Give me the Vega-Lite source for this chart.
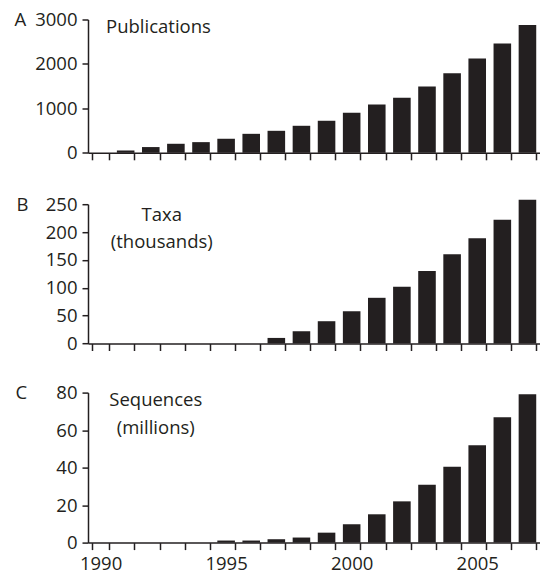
{
  "$schema": "https://vega.github.io/schema/vega-lite/v6.json",
  "padding": {"left": 14, "top": 10.5, "right": 0, "bottom": 0},
  "background": "white",
  "config": {
    "font": "Open Sans",
    "view": {"stroke": null},
    "axis": {
      "domainColor": "#231f20", "tickColor": "#231f20", "labelColor": "#231f20", "titleColor": "#231f20",
      "labelFont": "Open Sans", "labelFontSize": 18.5, "titleFont": "Open Sans", "titleFontSize": 18.5,
      "titleFontWeight": "normal", "domainWidth": 1.5, "tickWidth": 1.5, "grid": false, "labelOverlap": false
    }
  },
  "datasets": {
    "pubs": [
      {"year": 1991, "value": 52}, {"year": 1992, "value": 129}, {"year": 1993, "value": 203},
      {"year": 1994, "value": 240}, {"year": 1995, "value": 316}, {"year": 1996, "value": 427},
      {"year": 1997, "value": 495}, {"year": 1998, "value": 608}, {"year": 1999, "value": 721},
      {"year": 2000, "value": 900}, {"year": 2001, "value": 1087}, {"year": 2002, "value": 1238},
      {"year": 2003, "value": 1493}, {"year": 2004, "value": 1793}, {"year": 2005, "value": 2123},
      {"year": 2006, "value": 2460}, {"year": 2007, "value": 2874}
    ],
    "taxa": [
      {"year": 1997, "value": 10}, {"year": 1998, "value": 22}, {"year": 1999, "value": 40},
      {"year": 2000, "value": 58}, {"year": 2001, "value": 82}, {"year": 2002, "value": 102},
      {"year": 2003, "value": 130}, {"year": 2004, "value": 160}, {"year": 2005, "value": 189},
      {"year": 2006, "value": 222}, {"year": 2007, "value": 258}
    ],
    "seqs": [
      {"year": 1995, "value": 1.1}, {"year": 1996, "value": 1.1}, {"year": 1997, "value": 1.8},
      {"year": 1998, "value": 2.7}, {"year": 1999, "value": 5.3}, {"year": 2000, "value": 9.8},
      {"year": 2001, "value": 15.1}, {"year": 2002, "value": 22}, {"year": 2003, "value": 30.8},
      {"year": 2004, "value": 40.5}, {"year": 2005, "value": 51.9}, {"year": 2006, "value": 66.8},
      {"year": 2007, "value": 79.1}
    ],
    "notes": [
      {"panel": "A", "year": 1990, "value": 2842, "label": "Publications"},
      {"panel": "B", "year": 1992, "value": 230, "label": "Taxa"},
      {"panel": "B", "year": 1992, "value": 182, "label": "(thousands)"},
      {"panel": "C", "year": 1992, "value": 76, "label": "Sequences"},
      {"panel": "C", "year": 1992, "value": 61.3, "label": "(millions)"}
    ]
  },
  "spacing": 50.7,
  "bounds": "flush",
  "vconcat": [
    {
      "width": 452, "height": 133.3,
      "encoding": {
        "x": {"field": "year", "type": "ordinal",
          "scale": {"domain": [1990,1991,1992,1993,1994,1995,1996,1997,1998,1999,2000,2001,2002,2003,2004,2005,2006,2007], "paddingInner": 0.3, "paddingOuter": 0.15},
          "axis": {"labels": false, "tickBand": "extent", "tickSize": 7, "title": null}},
        "y": {"field": "value", "type": "quantitative",
          "scale": {"domain": [0, 3000], "nice": false},
          "axis": {"values": [0, 1000, 2000, 3000], "format": "d", "tickSize": 6, "labelPadding": 5, "labelOverlap": false, "labelFlush": false,
            "title": "A", "titleAngle": 0, "titleAlign": "left", "titleBaseline": "middle", "titleX": -74, "titleY": 0}}
      },
      "layer": [
        {
          "data": {"name": "pubs"},
          "mark": {"type": "bar", "color": "#231f20"}
        },
        {
          "data": {"name": "notes"},
          "transform": [{"filter": "datum.panel == 'A'"}],
          "mark": {"type": "text", "align": "left", "baseline": "middle", "dx": 5.5, "fontSize": 18.5, "color": "#231f20", "font": "Open Sans"},
          "encoding": {"text": {"field": "label"}}
        }
      ]
    },
    {
      "spacing": 48.4,
      "bounds": "flush",
      "vconcat": [
        {
          "width": 452, "height": 139.3,
          "encoding": {
            "x": {"field": "year", "type": "ordinal",
              "scale": {"domain": [1990,1991,1992,1993,1994,1995,1996,1997,1998,1999,2000,2001,2002,2003,2004,2005,2006,2007], "paddingInner": 0.3, "paddingOuter": 0.15},
              "axis": {"labels": false, "tickBand": "extent", "tickSize": 7, "title": null}},
            "y": {"field": "value", "type": "quantitative",
              "scale": {"domain": [0, 250], "nice": false},
              "axis": {"values": [0, 50, 100, 150, 200, 250], "format": "d", "tickSize": 6, "labelPadding": 5, "labelOverlap": false, "labelFlush": false,
                "title": "B", "titleAngle": 0, "titleAlign": "left", "titleBaseline": "middle", "titleX": -72, "titleY": 0}}
          },
          "layer": [
            {
              "data": {"name": "taxa"},
              "mark": {"type": "bar", "color": "#231f20"}
            },
            {
              "data": {"name": "notes"},
              "transform": [{"filter": "datum.panel == 'B'"}],
              "mark": {"type": "text", "align": "center", "baseline": "middle", "dx": 11, "fontSize": 18.5, "color": "#231f20", "font": "Open Sans"},
              "encoding": {"text": {"field": "label"}}
            }
          ]
        },
        {
          "width": 452, "height": 150,
          "encoding": {
            "x": {"field": "year", "type": "ordinal",
              "scale": {"domain": [1990,1991,1992,1993,1994,1995,1996,1997,1998,1999,2000,2001,2002,2003,2004,2005,2006,2007], "paddingInner": 0.3, "paddingOuter": 0.15},
              "axis": {"labelExpr": "datum.value % 5 === 0 ? datum.label : ''", "labelAngle": 0, "labelPadding": 5, "tickBand": "extent", "tickSize": 7, "title": null}},
            "y": {"field": "value", "type": "quantitative",
              "scale": {"domain": [0, 80], "nice": false},
              "axis": {"values": [0, 20, 40, 60, 80], "format": "d", "tickSize": 6, "labelPadding": 5, "labelOverlap": false, "labelFlush": false,
                "title": "C", "titleAngle": 0, "titleAlign": "left", "titleBaseline": "middle", "titleX": -73, "titleY": 0}}
          },
          "layer": [
            {
              "data": {"name": "seqs"},
              "mark": {"type": "bar", "color": "#231f20"}
            },
            {
              "data": {"name": "notes"},
              "transform": [{"filter": "datum.panel == 'C'"}],
              "mark": {"type": "text", "align": "center", "baseline": "middle", "dx": 5, "fontSize": 18.5, "color": "#231f20", "font": "Open Sans"},
              "encoding": {"text": {"field": "label"}}
            }
          ]
        }
      ]
    }
  ]
}
